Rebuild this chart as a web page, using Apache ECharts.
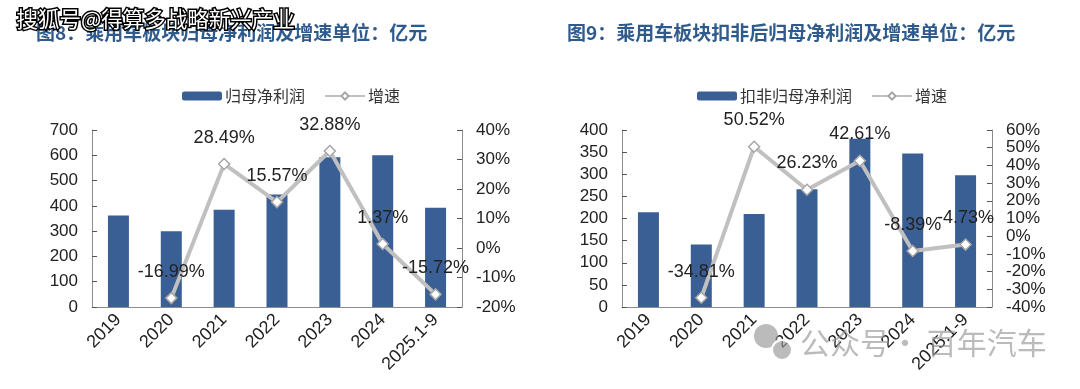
<!DOCTYPE html>
<html><head><meta charset="utf-8">
<script src="https://cdn.jsdelivr.net/npm/echarts@6/dist/echarts.min.js"></script>
<style>html,body{margin:0;padding:0;background:#fff}#c{width:1080px;height:389px}</style>
</head><body><div id="c"></div>
<script>
const categories = ['2019','2020','2021','2022','2023','2024','2025.1-9'];
const profit = [362, 300, 385, 445, 592, 600, 393];
const growth = [null, -16.99, 28.49, 15.57, 32.88, 1.37, -15.72];
const profitEx = [214, 141, 210, 266, 380, 347, 298];
const growthEx = [null, -34.81, 50.52, 26.23, 42.61, -8.39, -4.73];
const leftTicks = {min: 0, max: 700, interval: 100};
const leftPct = {min: -20, max: 40, interval: 10};
const rightTicks = {min: 0, max: 400, interval: 50};
const rightPct = {min: -40, max: 60, interval: 10};
const titles = ['图8：乘用车板块归母净利润及增速单位：亿元', '图9：乘用车板块扣非后归母净利润及增速单位：亿元'];
const names = ['归母净利润', '扣非归母净利润', '增速'];

const BAR = '#3a5f94', LINE = '#c0c0c0', AX = '#8c8c8c', TXT = '#222';
const FONT = '"Liberation Sans", Arial, sans-serif';
const CJK = '"Noto Sans CJK SC", sans-serif';

function xAx(gi) {
  return {type: 'category', gridIndex: gi, data: categories, boundaryGap: true,
    axisLine: {lineStyle: {color: AX}}, axisTick: {inside: true, length: 5, lineStyle: {color: '#555'}},
    axisLabel: {rotate: 45, fontSize: 18, color: TXT, fontFamily: FONT, margin: 10, interval: 0}};
}
function yAx(gi, r, pos, pct) {
  return Object.assign({type: 'value', gridIndex: gi, position: pos, splitLine: {show: false},
    axisLine: {show: true, lineStyle: {color: AX}}, axisTick: {show: true, inside: true, length: 5, lineStyle: {color: '#555'}},
    axisLabel: {fontSize: 17, color: TXT, fontFamily: FONT, margin: 14, formatter: pct ? '{value}%' : '{value}'}}, r);
}
function lineSeries(xi, yi, data) {
  return {name: names[2], type: 'line', xAxisIndex: xi, yAxisIndex: yi, data: data, z: 5,
    symbol: 'diamond', symbolSize: 11, connectNulls: false,
    lineStyle: {color: LINE, width: 4}, itemStyle: {color: '#fff', borderColor: '#a6a6a6', borderWidth: 1.5},
    label: {show: true, position: 'top', distance: 11, fontSize: 18, color: TXT, fontFamily: FONT,
      formatter: p => p.value == null ? '' : p.value.toFixed(2) + '%'}};
}
function barSeries(name, xi, yi, data) {
  return {name: name, type: 'bar', xAxisIndex: xi, yAxisIndex: yi, data: data, barWidth: 21,
    itemStyle: {color: BAR}};
}

const chart = echarts.init(document.getElementById('c'), null, {renderer: 'canvas'});
chart.setOption({
  animation: false,
  backgroundColor: '#fff',
  title: [
    {text: titles[0], left: 31, top: 18, textStyle: {fontSize: 19, fontWeight: 'bold', color: '#2f5b8c', fontFamily: CJK}},
    {text: titles[1], left: 562, top: 18, textStyle: {fontSize: 19, fontWeight: 'bold', color: '#2f5b8c', fontFamily: CJK}}
  ],
  legend: [
    {left: 177, top: 83, itemWidth: 40, itemHeight: 9, itemGap: 19, data: [names[0], names[2]],
      textStyle: {fontSize: 16, color: '#333', fontFamily: CJK, padding: [0, 0, 0, -2]}},
    {left: 692, top: 83, itemWidth: 40, itemHeight: 9, itemGap: 19, data: [names[1], names[2]],
      textStyle: {fontSize: 16, color: '#333', fontFamily: CJK, padding: [0, 0, 0, -2]}}
  ],
  grid: [
    {left: 92, right: 618, top: 130, bottom: 82},
    {left: 622, right: 88, top: 130, bottom: 82}
  ],
  xAxis: [xAx(0), xAx(1)],
  yAxis: [yAx(0, leftTicks, 'left', false), yAx(0, leftPct, 'right', true),
          yAx(1, rightTicks, 'left', false), yAx(1, rightPct, 'right', true)],
  series: [
    barSeries(names[0], 0, 0, profit), lineSeries(0, 1, growth),
    barSeries(names[1], 1, 2, profitEx), lineSeries(1, 3, growthEx)
  ],
  graphic: [
    {type: 'text', left: 15, top: 7, z: 100,
      style: {text: '搜狐号@得算多战略新兴产业', font: '21.5px "Noto Sans CJK SC"', fill: '#fff', stroke: '#000', lineWidth: 3, strokeFirst: true}},
    {type: 'circle', shape: {cx: 766, cy: 336, r: 12}, z: 100, style: {fill: 'rgba(150,150,150,0.65)'}},
    {type: 'circle', shape: {cx: 782, cy: 350, r: 10}, z: 100, style: {fill: 'rgba(150,150,150,0.65)', stroke: '#fff', lineWidth: 2}},
    {type: 'text', left: 800, top: 328, z: 100,
      style: {text: '公众号· 百年汽车', font: '30px "Noto Sans CJK SC"', fill: 'rgba(150,150,150,0.65)'}}
  ]
});
</script></body></html>
